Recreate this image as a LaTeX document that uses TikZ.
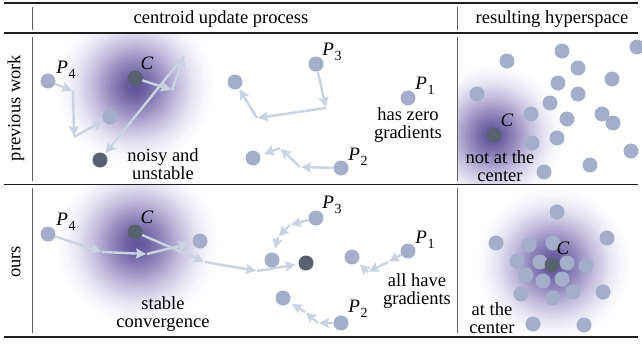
\documentclass[tikz,border=0pt]{standalone}
\usepackage{fontspec}
\setmainfont{Liberation Serif}
\usetikzlibrary{arrows.meta}
\pgfdeclareradialshading{glow}{\pgfpoint{0bp}{0bp}}{rgb(0bp)=(0.38,0.33,0.60); rgb(3bp)=(0.42,0.37,0.63); rgb(8bp)=(0.58,0.54,0.74); rgb(13bp)=(0.76,0.73,0.86); rgb(18bp)=(0.90,0.89,0.95); rgb(22bp)=(0.97,0.97,0.99); rgb(25bp)=(1,1,1); rgb(50bp)=(1,1,1)}
\pgfdeclarelayer{glowl}
\pgfdeclarelayer{arrl}
\pgfsetlayers{glowl,arrl,main}
\definecolor{dotc}{RGB}{164,174,203}
\definecolor{darkc}{RGB}{88,97,112}
\definecolor{arrc}{RGB}{202,211,226}
\definecolor{rulec}{RGB}{30,30,30}
\tikzset{
  lt/.style={circle, fill=dotc, inner sep=0pt, minimum size=15pt},
  dk/.style={circle, fill=darkc, inner sep=0pt, minimum size=15pt},
  gr/.style={draw=arrc, line width=2.4pt, -{Stealth[length=10pt,width=10pt,inset=1.5pt]}, shorten >=1pt},
  txt/.style={font=\fontsize{18.5}{17.5}\selectfont, align=center, inner sep=0pt},
  lab/.style={font=\fontsize{19}{19}\selectfont, inner sep=0pt},
  hrule/.style={draw=rulec, line width=1.8pt},
  mrule/.style={draw=rulec, line width=1.1pt},
  vrule/.style={draw=rulec!70, line width=0.9pt},
}
\newcommand{\Plab}[1]{\textit{P}\kern0.5pt\raisebox{-0.28em}{\fontsize{14}{14}\selectfont #1}}
\begin{document}
\begin{tikzpicture}[x=1pt,y=-1pt]
\useasboundingbox (0,0) rectangle (642,343);
% ---------- table rules ----------
\coordinate (tl) at (4,3); \coordinate (tr) at (638,3);
\coordinate (ml) at (4,33); \coordinate (mr) at (638,33);
\coordinate (sl) at (4,184.5); \coordinate (sr) at (638,184.5);
\coordinate (bl) at (4,337); \coordinate (br) at (638,337);
\draw[hrule] (tl) -- (tr);
\draw[mrule] (ml) -- (mr);
\draw[mrule] (sl) -- (sr);
\draw[hrule] (bl) -- (br);
\foreach \x in {32,457}{
  \draw[vrule] (\x,7) -- (\x,30);
  \draw[vrule] (\x,37) -- (\x,181);
  \draw[vrule] (\x,188) -- (\x,333);
}
% ---------- headers ----------
\node[txt] (h1) at (221,19) {centroid update process};
\node[txt] (h2) at (552,19) {resulting hyperspace};
\node[txt, rotate=90] (r1) at (16,108) {previous work};
\node[txt, rotate=90] (r2) at (16,262) {ours};
% ---------- glows ----------
\begin{pgfonlayer}{glowl}
\begin{scope}
  \clip (33,34) rectangle (456.5,183.5);
  \shade[shading=glow] (135,86) circle (80);
\end{scope}
\begin{scope}
  \clip (457.5,34) rectangle (642,183.5);
  \shade[shading=glow] (492,135) circle (72);
\end{scope}
\begin{scope}
  \clip (33,185.5) rectangle (456.5,336);
  \shade[shading=glow] (137,243) circle (82);
\end{scope}
\begin{scope}
  \clip (457.5,185.5) rectangle (642,336);
  \shade[shading=glow] (553,264) circle (78);
\end{scope}
\end{pgfonlayer}
% ================= previous work, centroid update =================
\node[lt] (P4a) at (48,81) {};
\node[lab] (P4al) at (66,70) {\Plab{4}};
\node[dk] (Ca) at (135,78) {};
\node[lab] (Cal) at (147,63) {\textit{C}};
\node[lt] (L1) at (110,117) {};
\node[dk] (D1) at (100,160) {};
\node[lt] (P3a) at (316,64) {};
\node[lab] (P3al) at (332,52) {\Plab{3}};
\node[lt] (L2) at (235,82) {};
\node[lt] (P1a) at (408,98) {};
\node[lab] (P1al) at (425,86) {\Plab{1}};
\node[lt] (P2a) at (341,168) {};
\node[lab] (P2al) at (358,157) {\Plab{2}};
\node[lt] (L3) at (253,158) {};
\coordinate (b1) at (73,91);
\coordinate (b2) at (74,137);
\coordinate (a1) at (172,90);
\coordinate (a2) at (184,56);
\coordinate (c1) at (326,108);
\coordinate (c2) at (257,118);
\coordinate (d1) at (300,167);
\coordinate (d2) at (280,148);
\begin{pgfonlayer}{arrl}
\draw[gr] (P4a) -- (b1);
\draw[gr] (b1) -- (b2);
\draw[gr] (b2) -- (L1);
\draw[gr] (Ca) -- (a1);
\draw[gr] (a1) -- (a2);
\draw[gr] (a2) -- (D1);
\draw[gr] (P3a) -- (c1);
\draw[gr] (c1) -- (c2);
\draw[gr] (c2) -- (L2);
\draw[gr] (P2a) -- (d1);
\draw[gr] (d1) -- (d2);
\draw[gr, shorten >=4pt] (d2) -- (L3);
\end{pgfonlayer}
\node[txt] (t1) at (163,164) {noisy and\\unstable};
\node[txt] (t2) at (408,125) {has zero\\gradients};
% ================= previous work, hyperspace =================
\foreach \p in {(507,61),(562,51),(637,47),(578,68),(612,79),(558,83),(477,94),(578,94),(550,103),(531,114),(567,119),(602,114),(613,123),(557,138),(532,143),(631,151),(590,165),(544,172)}{
  \node[lt] at \p {};
}
\node[dk] (Cr1) at (494,135) {};
\node[lab] (Cr1l) at (507,120) {\textit{C}};
\node[txt] (t3) at (500,166) {not at the\\center};
% ================= ours, centroid update =================
\node[lt] (P4b) at (48,234) {};
\node[lab] (P4bl) at (66,222) {\Plab{4}};
\node[dk] (Cb) at (135,232) {};
\node[lab] (Cbl) at (147,217) {\textit{C}};
\node[lt] (L4) at (200,241) {};
\node[dk] (D2) at (306,263) {};
\node[lt] (P3b) at (316,218) {};
\node[lab] (P3bl) at (332,205) {\Plab{3}};
\node[lt] (L5) at (272,260) {};
\node[lt] (P1b) at (408,251) {};
\node[lab] (P1bl) at (425,240) {\Plab{1}};
\node[lt] (L6) at (352,257) {};
\node[lt] (P2b) at (341,323) {};
\node[lab] (P2bl) at (358,309) {\Plab{2}};
\node[lt] (L7) at (283,298) {};
\coordinate (e1) at (102,252);
\coordinate (e2) at (147,254);
\coordinate (f1) at (205,262);
\coordinate (f2) at (257,271);
\coordinate (g1) at (290,225);
\coordinate (g2) at (278,237);
\coordinate (h1) at (388,262);
\coordinate (h2) at (368,272);
\coordinate (i1) at (318,323);
\coordinate (i2) at (305,312);
\begin{pgfonlayer}{arrl}
\draw[gr] (P4b) -- (e1);
\draw[gr] (e1) -- (e2);
\draw[gr, shorten >=4pt] (e2) -- (L4);
\draw[gr] (Cb) -- (f1);
\draw[gr] (f1) -- (f2);
\draw[gr, shorten >=3pt] (f2) -- (D2);
\draw[gr] (P3b) -- (g1);
\draw[gr] (g1) -- (g2);
\draw[gr, shorten >=4pt] (g2) -- (L5);
\draw[gr] (P1b) -- (h1);
\draw[gr] (h1) -- (h2);
\draw[gr, shorten >=3pt] (h2) -- (L6);
\draw[gr] (P2b) -- (i1);
\draw[gr] (i1) -- (i2);
\draw[gr, shorten >=3pt] (i2) -- (L7);
\end{pgfonlayer}
\node[txt] (t4) at (163,314) {stable\\convergence};
\node[txt] (t5) at (417,291) {all have\\gradients};
% ================= ours, hyperspace =================
\foreach \p in {(557,212),(496,243),(607,238),(529,245),(553,243),(517,261),(540,262),(567,263),(586,266),(526,275),(543,281),(562,279),(521,294),(573,292),(603,292),(553,298),(533,324),(584,325)}{
  \node[lt] at \p {};
}
\node[dk] (Cr2) at (552,265) {};
\node[lab] (Cr2l) at (563,248) {\textit{C}};
\node[txt] (t6) at (492,318) {at the\\center};
\end{tikzpicture}
\end{document}
